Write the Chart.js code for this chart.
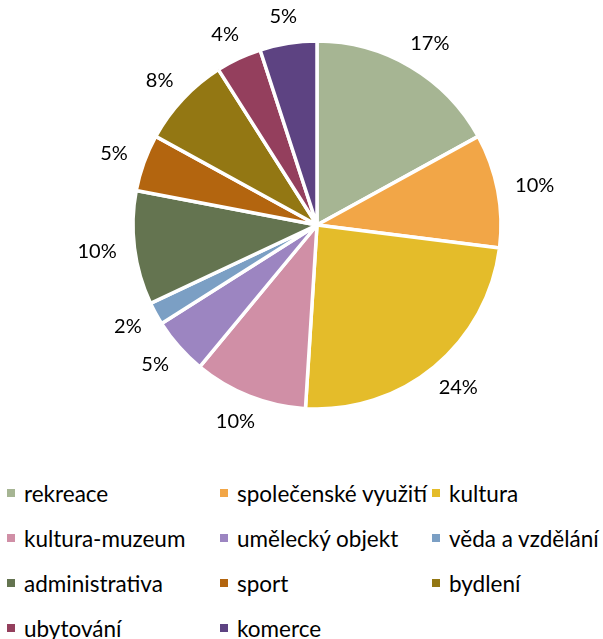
<!DOCTYPE html>
<html>
<head>
<meta charset="utf-8">
<script src="https://cdn.jsdelivr.net/npm/chart.js@4/dist/chart.umd.min.js"></script>
<style>
  html, body { margin: 0; padding: 0; background: #fff; }
  #wrap { position: relative; width: 603px; height: 639px; overflow: hidden; }
  #box { position: absolute; left: 0; top: 0; width: 603px; height: 470px; }
  #legend { position: absolute; left: 0; top: 471px; width: 603px; font-family: Lato, sans-serif; font-size: 22.5px; color: #000; }
  .item { position: absolute; display: flex; align-items: center; white-space: nowrap; height: 44px; }
  .item i { display: inline-block; width: 8px; height: 8px; margin-right: 9px; }
</style>
</head>
<body>
<div id="wrap">
  <div id="box"><canvas id="pie"></canvas></div>
  <div id="legend"></div>
</div>
<script>
const categories = ["rekreace", "společenské využití", "kultura", "kultura-muzeum", "umělecký objekt",
  "věda a vzdělání", "administrativa", "sport", "bydlení", "ubytování", "komerce"];
const shares = [17, 10, 24, 10, 5, 2, 10, 5, 8, 4, 5];
const colors = ["#a6b593", "#f2a647", "#e4bc2a", "#d08fa6", "#9c85c1", "#7b9fc4",
  "#647450", "#b3650f", "#937713", "#943f5d", "#5d4382"];

const total = shares.reduce((a, b) => a + b, 0);

// percentage labels just outside the rim
const outsideLabels = {
  id: "outsideLabels",
  afterDatasetsDraw(chart) {
    const ctx = chart.ctx;
    const meta = chart.getDatasetMeta(0);
    ctx.save();
    ctx.font = "20px Lato, sans-serif";
    ctx.fillStyle = "#000";
    ctx.textAlign = "center";
    ctx.textBaseline = "middle";
    meta.data.forEach((arc, i) => {
      const p = arc.getProps(["x", "y", "startAngle", "endAngle", "outerRadius"], true);
      const mid = (p.startAngle + p.endAngle) / 2;
      const ux = Math.cos(mid), uy = Math.sin(mid);
      const txt = Math.round(shares[i] / total * 100) + "%";
      const w = ctx.measureText(txt).width, h = 18;
      const r = p.outerRadius + 18;
      const x = p.x + ux * r + ux * w / 2;
      const y = p.y + uy * r + uy * h / 2;
      ctx.fillText(txt, x, y);
    });
    ctx.restore();
  }
};

new Chart(document.getElementById("pie"), {
  type: "pie",
  data: {
    labels: categories,
    datasets: [{
      data: shares,
      backgroundColor: colors,
      borderColor: "#ffffff",
      borderWidth: 3.5
    }]
  },
  options: {
    responsive: true,
    maintainAspectRatio: false,
    animation: false,
    radius: 184,
    layout: { padding: { left: 31, right: 0, top: 0, bottom: 20 } },
    plugins: {
      legend: { display: false },
      tooltip: { enabled: false }
    }
  },
  plugins: [outsideLabels]
});

// legend laid out in three columns like the original
const legend = document.getElementById("legend");
const colX = [7, 220, 432];
const rowY = [0, 45, 90, 135];
categories.forEach((name, i) => {
  const el = document.createElement("div");
  el.className = "item";
  el.style.left = colX[i % 3] + "px";
  el.style.top = rowY[Math.floor(i / 3)] + "px";
  el.innerHTML = '<i style="background:' + colors[i] + '"></i>' + name;
  legend.appendChild(el);
});
</script>
</body>
</html>
